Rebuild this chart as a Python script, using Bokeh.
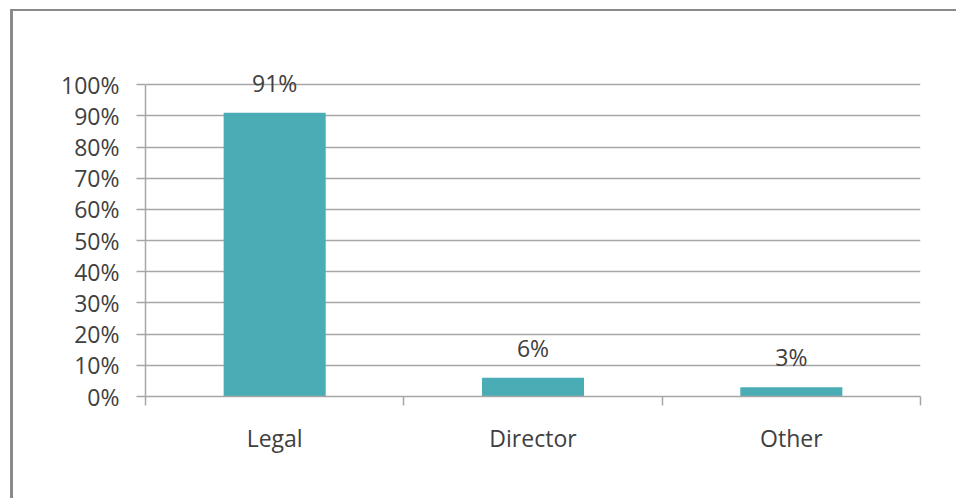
from bokeh.plotting import figure
from bokeh.models import ColumnDataSource, Range1d, FixedTicker, NumeralTickFormatter
from bokeh.core.properties import value
from bokeh.embed import file_html
from bokeh.resources import INLINE

categories = ["Legal", "Director", "Other"]
shares = [0.91, 0.06, 0.03]
share_labels = ["91%", "6%", "3%"]
y_ticks = [0.0, 0.1, 0.2, 0.3, 0.4, 0.5, 0.6, 0.7, 0.8, 0.9, 1.0]

FONT = "Open Sans"
FONT_SIZE = "23px"
TEXT_COLOR = "#404040"
LINE_COLOR = "#a6a6a6"
BAR_COLOR = "#4aacb5"

centers = [i + 0.5 for i in range(len(categories))]
source = ColumnDataSource(dict(x=centers, top=shares, label=share_labels))

p = figure(width=946, height=489, output_backend="svg", toolbar_location=None,
           x_range=Range1d(0, len(categories)), y_range=Range1d(0, 1.1),
           min_border_left=132, min_border_right=39, min_border_top=42, min_border_bottom=104)
p.styles = {"border-left": "3px solid #8a8a8a", "border-top": "2px solid #8a8a8a",
            "margin-left": "10px", "margin-top": "9px"}
p.outline_line_color = None
p.background_fill_color = "white"
p.border_fill_color = "white"

p.vbar(x="x", top="top", bottom=0, width=0.395, source=source,
       fill_color=BAR_COLOR, line_color=None)

p.text(x="x", y="top", text="label", source=source,
       text_align="center", text_baseline="bottom", y_offset=-14,
       text_font=value(FONT), text_font_size=FONT_SIZE, text_color=TEXT_COLOR)

# x axis
xa = p.xaxis[0]
xa.ticker = FixedTicker(ticks=centers, minor_ticks=list(range(len(categories) + 1)))
xa.major_label_overrides = {c: n for c, n in zip(centers, categories)}
xa.major_tick_line_color = None
xa.major_tick_out = 0
xa.major_tick_in = 0
xa.minor_tick_line_color = LINE_COLOR
xa.minor_tick_line_width = 1.5
xa.minor_tick_out = 9
xa.minor_tick_in = 0
xa.axis_line_color = LINE_COLOR
xa.axis_line_width = 1.5
xa.major_label_standoff = 16
xa.major_label_text_font = FONT
xa.major_label_text_font_size = FONT_SIZE
xa.major_label_text_color = TEXT_COLOR

# y axis
ya = p.yaxis[0]
ya.ticker = FixedTicker(ticks=y_ticks)
ya.formatter = NumeralTickFormatter(format="0%")
ya.bounds = (0, 1)
ya.major_tick_out = 9
ya.major_tick_in = 0
ya.major_tick_line_color = LINE_COLOR
ya.major_tick_line_width = 1.5
ya.minor_tick_line_color = None
ya.axis_line_color = LINE_COLOR
ya.axis_line_width = 1.5
ya.major_label_standoff = 17
ya.major_label_text_font = FONT
ya.major_label_text_font_size = FONT_SIZE
ya.major_label_text_color = TEXT_COLOR

p.xgrid.grid_line_color = None
p.ygrid.ticker = FixedTicker(ticks=y_ticks)
p.ygrid.grid_line_color = LINE_COLOR
p.ygrid.grid_line_width = 1.5

open("out.html", "w").write(file_html(p, INLINE))
